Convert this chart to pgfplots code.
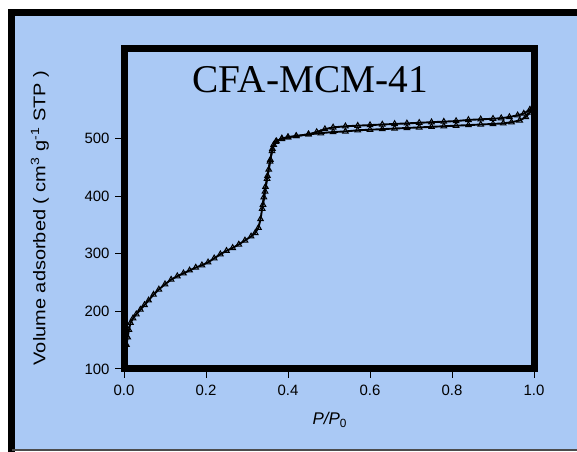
\documentclass[border=0pt]{standalone}
\usepackage{pgfplots}
\pgfplotsset{compat=1.18}
\usepackage{fontspec}
\setmainfont{Liberation Sans}
\newfontfamily\titlefont{Liberation Serif}
\definecolor{bgblue}{RGB}{170,201,245}
\pgfplotstableread{
x y
0.006 142
0.009 155
0.012 168
0.016 180
0.022 188
0.030 195
0.040 203
0.050 211
0.060 219
0.072 229
0.085 238
0.100 247
0.115 255
0.130 261
0.145 266
0.160 271
0.175 276
0.190 280
0.205 285
0.220 292
0.235 299
0.250 305
0.265 310
0.280 316
0.295 323
0.310 330
0.320 336
0.328 345
0.333 360
0.337 378
0.341 398
0.345 416
0.349 430
0.353 446
0.357 463
0.361 478
0.365 489
0.372 495
0.385 499
0.400 502
0.420 504
0.450 507
0.480 509
0.510 511
0.540 512
0.570 514
0.600 515
0.630 516
0.660 517
0.690 518
0.720 519
0.750 520
0.780 521
0.810 522
0.840 523
0.870 524
0.900 525
0.925 526
0.945 528
0.965 531
0.980 537
0.990 545
1.000 557
}\adsorption
\pgfplotstableread{
x y
1.000 557
0.990 550
0.975 543
0.960 540
0.940 537
0.920 535
0.900 534
0.870 533
0.840 532
0.810 530
0.780 529
0.750 528
0.720 527
0.690 526
0.660 525
0.630 524
0.600 523
0.570 522
0.540 521
0.510 519
0.490 516
0.470 511
0.450 507
0.420 504
0.400 502
0.385 500
0.370 494
0.362 482
0.356 460
0.350 435
0.344 408
0.339 385
}\desorption
\begin{document}
\begin{tikzpicture}[x=1bp,y=1bp]
\useasboundingbox (0,0) rectangle (577,452);
\fill[white] (0,0) rectangle (577,452);
\fill[bgblue] (11.5,3) rectangle (577,439.5);
\draw[line width=7bp] (11.5,0) -- (11.5,439.5) -- (577,439.5);
\draw[line width=1.5bp, black!70] (11.5,2) -- (577,2);
\begin{axis}[
  scale only axis, width=410bp, height=320bp,
  at={(124bp,83bp)}, anchor=south west,
  xmin=0, xmax=1, ymin=100, ymax=655,
  axis line style={line width=7bp},
  tick align=outside, major tick length=9bp,
  tick style={black, line width=1bp},
  xtick={0,0.2,0.4,0.6,0.8,1.0},
  ytick={100,200,300,400,500},
  xtick pos=left, ytick pos=left,
  /pgf/number format/assume math mode=true,
  xticklabel style={yshift=-4bp, /pgf/number format/fixed, /pgf/number format/fixed zerofill, /pgf/number format/precision=1},
  ticklabel style={font=\fontsize{15}{15}\selectfont, text=black},
  yticklabel style={xshift=-2bp},
  xlabel={\textit{P/P}\textsubscript{0}},
  xlabel style={at={(axis description cs:0.502,-0.16)}, anchor=center, font=\fontsize{17}{17}\selectfont},
  ylabel={\scalebox{1.18}[1]{Volume adsorbed ( cm\textsuperscript{3} g\textsuperscript{-1} STP )}},
  ylabel style={at={(axis description cs:-0.205,0.472)}, anchor=center, font=\fontsize{17}{17}\selectfont},
  clip=false,
]
\addplot[black, line width=1.9bp, mark=triangle, mark size=3.2bp, mark options={solid, line width=1bp}] table[x=x,y=y] {\adsorption};
\addplot[black, line width=1.9bp, mark=triangle, mark size=3.2bp, mark options={solid, line width=1bp}] table[x=x,y=y] {\desorption};
\node[anchor=base, font=\titlefont\fontsize{39.5}{40}\selectfont] at (rel axis cs:0.454,0.8625) {CFA-MCM-41};
\end{axis}
\end{tikzpicture}
\end{document}
